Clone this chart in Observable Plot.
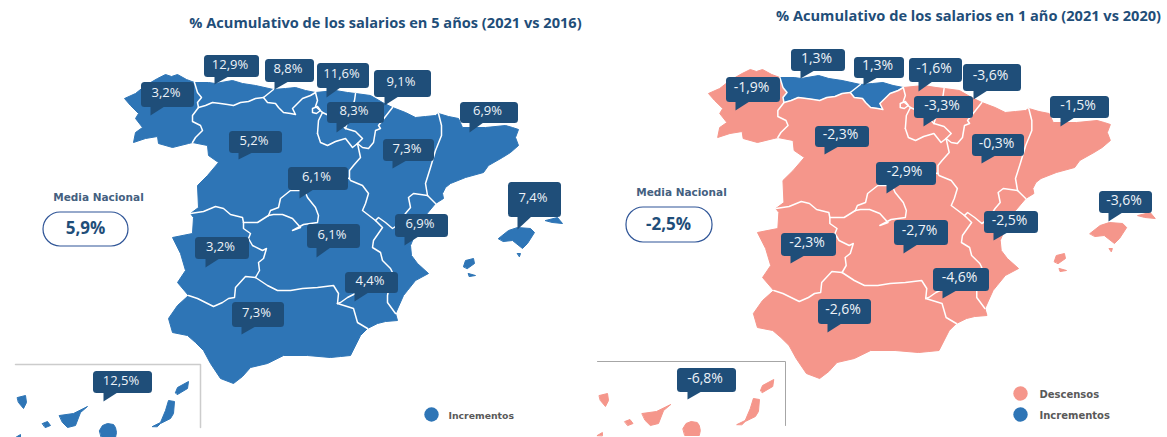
<!DOCTYPE html>
<html>
<head>
<meta charset="utf-8">
<script src="https://cdn.jsdelivr.net/npm/d3@7"></script>
<script src="https://cdn.jsdelivr.net/npm/@observablehq/plot@0.6"></script>
<style>html,body{margin:0;padding:0;background:#fff}svg{display:block}</style>
</head>
<body>
<div id="chart"></div>
<script>
// Titles, texts
const titles = ["% Acumulativo de los salarios en 5 años (2021 vs 2016)", "% Acumulativo de los salarios en 1 año (2021 vs 2020)"];
const mediaLabel = "Media Nacional";
const mediaValues = [5.9, -2.5];

// Regions and values
const regionNames = ["Galicia","Asturias","Cantabria","País Vasco","Navarra","La Rioja","Castilla y León","Aragón","Cataluña","Comunidad Valenciana","Murcia","Madrid","Castilla-La Mancha","Extremadura","Andalucía","Baleares","Canarias"];
const values5y = [3.2,12.9,8.8,11.6,9.1,8.3,5.2,7.3,6.9,6.9,4.4,6.1,6.1,3.2,7.3,7.4,12.5];
const values1y = [-1.9,1.3,1.3,-1.6,-3.6,-3.3,-2.3,-0.3,-1.5,-2.5,-4.6,-2.9,-2.7,-2.3,-2.6,-3.6,-6.8];

// Callout boxes [x1,y1,x2,y2] and pointer tips [x,y], same region order
const boxes5y = [[141,82,194,107],[204,55,259,77],[265,59,314,82],[317,63,369,88],[374,70,431,97],[327,102,384,123],[229,131,282,153],[383,139,434,161],[460,102,518,123],[395,214,448,237],[345,272,398,293],[288,167,348,190],[307,224,360,248],[195,237,249,259],[232,302,284,327],[508,182,561,217],[93,371,152,393]];
const tips5y = [[150,115],[214,84],[274,89],[326,97],[384,105],[336,132],[238,159],[392,168],[469,132],[404,245],[354,301],[299,198],[316,257],[205,267],[241,334],[517,229],[103,401]];
const boxes1y = [[726,77,780,102],[791,49,845,71],[854,57,904,78],[909,58,962,82],[963,64,1021,91],[914,96,973,118],[815,126,869,147],[972,134,1024,156],[1050,96,1109,118],[984,211,1038,233],[933,268,989,291],[876,162,936,185],[894,220,948,245],[781,233,836,256],[818,299,871,324],[1099,191,1152,213],[677,368,736,392]];
const tips1y = [[735,110],[800,78],[863,85],[918,91],[973,99],[923,126],[824,154],[981,163],[1060,126],[993,240],[942,298],[886,193],[903,253],[790,263],[827,332],[1108,221],[687,399]];

// Shared borders in map units
const galCoast = [[192,142],[188,143],[172,147],[158,143],[157,136],[145,138],[133,142],[135,132],[142,127],[135,118],[138,113],[130,105],[124,98],[135,93],[145,85],[157,78],[165,74],[171,76],[177,74],[186,79],[194,82]];
const galAst = [[194,82],[197,92],[201,97],[197,102],[198,107]];
const galCyL = [[198,107],[192,115],[192,121],[200,125],[202,130],[195,137],[192,142]];
const astCoast = [[194,82],[208,82],[215,83],[232,80],[242,83],[255,85],[273,89]];
const astCyL = [[198,107],[205,105],[212,102],[220,103],[227,104],[233,105],[240,102],[248,101],[255,98],[263,97]];
const astCant = [[263,97],[273,89]];
const cantCoast = [[273,89],[285,88],[295,87],[305,90],[315,92]];
const cantCyL = [[263,97],[267,102],[275,103],[278,107],[283,112],[290,113],[295,114],[292,108],[297,103],[302,98],[310,95],[315,92]];
const basCoast = [[315,92],[335,90],[347,92],[355,93]];
const basNav = [[355,93],[354,100],[350,112],[345,128]];
const basSouth = [[322,112],[335,118],[345,128]];
const basWest = [[315,92],[317,100],[315,106],[322,112]];
const navCoast = [[355,93],[370,95],[382,102],[392,107]];
const navAra = [[392,107],[385,116],[378,125],[380,128],[375,130],[373,142],[368,148],[362,147],[357,143]];
const navRio = [[345,128],[355,131],[362,138],[357,143]];
const rioSouth = [[357,143],[352,147],[345,138],[335,141],[327,145],[320,142],[317,133]];
const rioWest = [[322,112],[318,120],[317,133]];
const araFrance = [[392,107],[405,112],[415,117],[425,116],[435,115],[438,113]];
const araCat = [[438,113],[441,125],[441,135],[435,150],[430,167],[425,183],[427,195]];
const araVal = [[427,195],[413,193],[408,197],[410,207],[405,213],[398,224],[392,228],[385,222],[378,217],[375,220]];
const araClm = [[375,220],[362,210],[365,203],[368,193],[362,185],[350,180],[349,178]];
const araCyL = [[349,178],[349,170],[353,165],[360,157],[357,143]];
const catCoast = [[438,113],[448,116],[458,118],[462,127],[485,127],[505,125],[512,127],[518,129],[515,137],[518,145],[510,152],[502,157],[488,165],[483,172],[465,177],[450,183],[445,187],[442,193],[443,198],[435,203]];
const catVal = [[427,195],[435,203]];
const valCoast = [[435,203],[425,215],[417,228],[410,245],[411,255],[417,263],[428,273],[415,280],[407,290],[403,295],[395,313]];
const valMur = [[388,290],[387,295],[387,302],[395,313]];
const valClm = [[375,220],[382,227],[373,240],[372,247],[380,252],[382,260],[390,268],[392,272],[385,280],[388,290]];
const murCoast = [[395,313],[397,320],[385,321],[377,323],[367,328]];
const murAnd = [[367,328],[357,322],[353,308],[337,303]];
const murClm = [[337,303],[340,302],[347,297],[353,294],[370,287],[388,290]];
const andClm = [[337,303],[338,293],[333,285],[317,287],[302,288],[290,290],[277,290],[267,285],[255,277]];
const andExt = [[255,277],[245,276],[235,287],[234,297],[228,298],[222,302],[213,306],[205,302],[197,298],[188,295]];
const andCoast = [[367,328],[360,335],[350,355],[340,356],[330,357],[307,355],[283,355],[267,363],[250,367],[242,376],[233,383],[220,378],[210,363],[203,350],[195,342],[187,335],[172,332],[168,318],[177,305],[188,295]];
const extWest = [[188,295],[177,282],[185,270],[180,253],[172,237],[192,233],[193,217],[190,213]];
const extCyL = [[190,213],[203,211],[215,206],[223,208],[230,214],[242,217],[243,222]];
const extClm = [[243,222],[243,228],[250,233],[248,238],[252,245],[262,250],[266,248],[263,258],[258,262],[259,270],[255,277]];
const clmCyLW = [[243,222],[257,222],[268,215]];
const cylMad = [[268,215],[270,210],[278,207],[280,198],[290,190],[304,190]];
const clmMad = [[304,190],[307,197],[315,207],[318,215],[317,222],[303,224],[292,230],[300,227],[292,218],[282,214],[273,214],[268,215]];
const clmCyLE = [[304,190],[315,180],[335,176],[349,178]];
const cylWest = [[190,213],[198,207],[197,185],[207,175],[218,162],[208,155],[207,145],[192,142]];
const trevino = [[312,108],[317,106],[320,110],[316,113],[312,112],[312,108]];
const mallorca = [[498,238],[508,230],[517,227],[530,228],[534,232],[527,243],[522,248],[512,240],[503,241]];
const menorca = [[545,220],[557,217],[562,223],[552,222]];
const cabrera = [[517,253],[520,253],[519,256]];
const ibiza = [[463,266],[465,260],[473,258],[474,263],[467,268]];
const formentera = [[468,273],[475,275],[469,276]];
const laPalma = [[17,397],[25,395],[26,402],[23,408],[18,402]];
const tenerife = [[59,415],[73,413],[87,406],[80,412],[75,425],[67,427],[62,422]];
const gomera = [[42,423],[47,421],[50,425],[45,427]];
const hierro = [[15,437],[20,434],[20,437]];
const granCanaria = [[99,430],[102,425],[107,423],[113,424],[115,427],[116,432],[115,437],[101,437]];
const fuerteventura = [[152,426],[160,422],[165,410],[168,400],[174,401],[173,413],[170,418],[160,423],[157,426]];
const lanzarote = [[175,392],[177,387],[188,381],[187,388],[177,394]];

const innerBorders = [galAst, galCyL, astCyL, astCant, cantCyL, basNav, basSouth, basWest, navAra, navRio, rioSouth, rioWest, araCat, araVal, araClm, araCyL, catVal, valMur, valClm, murAnd, murClm, andClm, andExt, extCyL, extClm, clmCyLW, cylMad, clmMad, clmCyLE, trevino];

const rev = a => [...a].reverse();
const ring = (...segs) => { const r = segs.flat(); r.push(r[0]); return r; };
const close = a => [...a, a[0]];
const regionRings = [
  [ring(galCoast, galAst, galCyL)],
  [ring(astCoast, rev(astCant), rev(astCyL), rev(galAst))],
  [ring(cantCoast, rev(cantCyL), astCant)],
  [ring(basCoast, basNav, rev(basSouth), rev(basWest))],
  [ring(navCoast, navAra, rev(navRio), rev(basNav))],
  [ring(basSouth, navRio, rioSouth, rev(rioWest))],
  [ring(rev(galCyL), astCyL, cantCyL, basWest, rioWest, rev(rioSouth), rev(araCyL), rev(clmCyLE), rev(cylMad), rev(clmCyLW), rev(extCyL), cylWest), trevino],
  [ring(rev(navAra), araFrance, araCat, araVal, araClm, araCyL)],
  [ring(catCoast, rev(catVal), rev(araCat))],
  [ring(catVal, valCoast, rev(valMur), rev(valClm), rev(araVal))],
  [ring(valMur, murCoast, murAnd, murClm)],
  [ring(cylMad, clmMad)],
  [ring(clmCyLW, rev(clmMad), clmCyLE, rev(araClm), valClm, rev(murClm), andClm, rev(extClm))],
  [ring(extWest, extCyL, extClm, andExt)],
  [ring(rev(andClm), rev(murAnd), andCoast, rev(andExt))],
  [close(mallorca), close(menorca), close(cabrera), close(ibiza), close(formentera)],
  [close(laPalma), close(tenerife), close(gomera), close(hierro), close(granCanaria), close(fuerteventura), close(lanzarote)]
];

// The right-hand map is the same geometry, slightly wider and shifted
const rightPoint = (dy) => ([x, y]) => [x * 1.02 + 581.5, y - dy];
const toRight = (polys, i) => polys.map(r => r.map(rightPoint(i === 16 ? 2 : 5)));
const feature = (polys, name, v) => ({type: "Feature", properties: {name, v}, geometry: {type: "MultiPolygon", coordinates: polys.map(r => [r])}});
const leftMap = regionRings.map((p, i) => feature(p, regionNames[i], values5y[i]));
const rightMap = regionRings.map((p, i) => feature(toRight(p, i), regionNames[i], values1y[i]));
const borderRows = [
  ...innerBorders.flatMap((s, i) => s.map(([x, y]) => ({x, y, z: "L" + i}))),
  ...innerBorders.flatMap((s, i) => s.map(rightPoint(5)).map(([x, y]) => ({x, y, z: "R" + i})))
];

const fmt = v => v.toFixed(1).replace(".", ",") + "%";
const callouts = (values, boxes, tips, size) => values.map((v, i) => ({
  label: fmt(v), x1: boxes[i][0], y1: boxes[i][1], x2: boxes[i][2], y2: boxes[i][3],
  cx: (boxes[i][0] + boxes[i][2]) / 2 - 2, cy: (boxes[i][1] + boxes[i][3]) / 2 - 2, size,
  tip: {type: "Polygon", coordinates: [[[tips[i][0], boxes[i][3] - 1], [tips[i][0], tips[i][1]], [tips[i][0] + 14, boxes[i][3] - 1], [tips[i][0], boxes[i][3] - 1]]]}
}));
const allCallouts = [...callouts(values5y, boxes5y, tips5y, 13), ...callouts(values1y, boxes1y, tips1y, 14)];

const BLUE = "#2e75b6", SALMON = "#f5968b", DARK = "#1f4e79";
const colorOf = v => v >= 0 ? BLUE : SALMON;

const pills = [
  {x1: 43, y1: 212, x2: 128, y2: 246, tx: 85, ty: 228, lx: 98, ly: 197, size: 17, label: fmt(mediaValues[0])},
  {x1: 626, y1: 207, x2: 712, y2: 242, tx: 668, ty: 224, lx: 681, ly: 192, size: 17, label: fmt(mediaValues[1])}
];
const frames = [
  [[15,364],[200,364],[200,427]],
  [[597,361],[785,361],[785,425]]
];
const frameColor = ["#cccccc", "#a6a6a6"];
const legend = [
  {x: 431, y: 414, fill: BLUE, label: "Incrementos", tx: 448, ty: 416, size: 9.3},
  {x: 1020, y: 393, fill: SALMON, label: "Descensos", tx: 1039, ty: 394, size: 10},
  {x: 1020, y: 414, fill: BLUE, label: "Incrementos", tx: 1039, ty: 415, size: 10}
];
const titleRows = [
  {t: titles[0], x: 385, y: 23},
  {t: titles[1], x: 968, y: 16}
];

const plot = Plot.plot({
  width: 1167, height: 437, margin: 0,
  x: {type: "linear", domain: [0, 1167], range: [0, 1167], axis: null},
  y: {type: "linear", domain: [0, 437], range: [0, 437], axis: null},
  style: {background: "#fff", fontFamily: "'Open Sans', sans-serif"},
  marks: [
    Plot.geo([...leftMap, ...rightMap], {fill: d => colorOf(d.properties.v), stroke: d => colorOf(d.properties.v), strokeWidth: 1, strokeLinejoin: "round"}),
    Plot.line(borderRows, {x: "x", y: "y", z: "z", stroke: "#fff", strokeWidth: 1.5, strokeLinejoin: "round"}),
    frames.map((f, i) => Plot.line(f, {x: d => d[0], y: d => d[1], stroke: frameColor[i], strokeWidth: i ? 1 : 1.5})),
    Plot.geo(allCallouts.map(d => d.tip), {fill: DARK}),
    Plot.rect(allCallouts, {x1: "x1", x2: "x2", y1: "y1", y2: "y2", fill: DARK, rx: 3.5}),
    Plot.text(allCallouts, {x: "cx", y: "cy", text: "label", fill: "#eef3f8", fontSize: d => d.size, textAnchor: "middle", lineAnchor: "middle"}),
    Plot.text(titleRows, {x: "x", y: "y", text: "t", fill: DARK, fontSize: 14.6, fontWeight: 700, textAnchor: "middle", lineAnchor: "middle"}),
    Plot.rect(pills, {x1: "x1", x2: "x2", y1: "y1", y2: "y2", fill: "#fff", stroke: "#2f5597", strokeWidth: 1.2, rx: 17}),
    Plot.text(pills, {x: "tx", y: "ty", text: "label", fill: DARK, fontSize: d => d.size, fontWeight: 700, lineAnchor: "middle"}),
    Plot.text(pills, {x: "lx", y: "ly", text: () => mediaLabel, fill: "#44607f", fontSize: 10.5, fontWeight: 700, fontFamily: "'DejaVu Sans', sans-serif", lineAnchor: "middle"}),
    Plot.dot(legend, {x: "x", y: "y", r: 7.2, fill: "fill"}),
    Plot.text(legend, {x: "tx", y: "ty", text: "label", fill: "#595959", fontSize: d => d.size, fontWeight: 700, fontFamily: "'DejaVu Sans', sans-serif", textAnchor: "start", lineAnchor: "middle"})
  ]
});
document.getElementById("chart").append(plot);
</script>
</body>
</html>
